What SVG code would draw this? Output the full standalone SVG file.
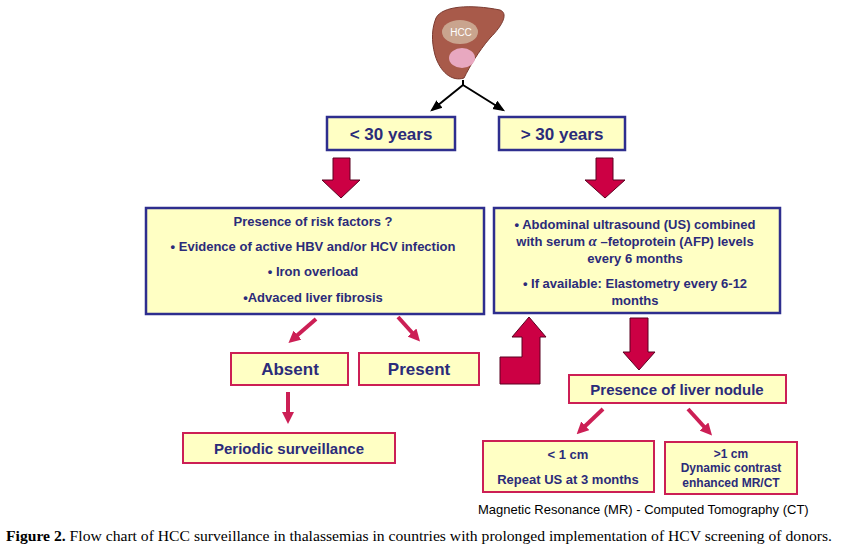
<svg xmlns="http://www.w3.org/2000/svg" width="842" height="549" viewBox="0 0 842 549">
<defs>
<style>
.b{fill:#FFFFC4;stroke:#2E2E8E;stroke-width:2.5}
.p{fill:#FFFFC4;stroke:#CC1F55;stroke-width:2}
.t{font-family:"Liberation Sans",Arial,sans-serif;font-weight:bold;fill:#2B2B7A;text-anchor:middle}
.big{fill:#CC0044;stroke:#5A0020;stroke-width:1}
.sm{stroke:#CC1F55;stroke-width:4;fill:none;marker-end:url(#ah)}
</style>
<marker id="ah" viewBox="0 0 10 10" refX="5" refY="5" markerWidth="3" markerHeight="3" orient="auto"><path d="M0,0L10,5L0,10z" fill="#CC1F55"/></marker>
<marker id="bk" viewBox="0 0 10 10" refX="8" refY="5" markerWidth="6" markerHeight="6" orient="auto"><path d="M0,1L10,5L0,9z" fill="#000"/></marker>
</defs>
<rect width="842" height="549" fill="#fff"/>
<g id="liver">
<path d="M436,18 C442,6 470,4 500,10 C508,13 504,24 490,38 C478,52 470,66 464,78 C452,82 440,72 435,55 C431,40 432,28 436,18z" fill="#A85A4A" stroke="#7A3A30"/>
<ellipse cx="460" cy="32" rx="18" ry="12" fill="#C9A48E"/>
<text x="461" y="36" font-family="Liberation Sans,Arial,sans-serif" font-size="10" fill="#fff" text-anchor="middle">HCC</text>
<ellipse cx="462" cy="58" rx="13" ry="10" fill="#E8A8C0"/>
</g>
<g id="connectors">
<path d="M463,80V85M463,85L503,110" stroke="#000" stroke-width="2" fill="none" marker-end="url(#bk)"/>
<path d="M463,85L432,110" stroke="#000" stroke-width="2" marker-end="url(#bk)"/>
<path class="big" d="M333,158H350V180H360L341,198L322,180H333z"/>
<path class="big" d="M596,158H613V180H625L605,198L585,180H596z"/>
<path class="sm" d="M316,319L293,339"/>
<path class="sm" d="M398,317L416,337"/>
<path class="sm" d="M288,392V418"/>
<path class="big" d="M500,384V357H522V337H512L529,317L546,337H540V384z"/>
<path class="big" d="M630,318H648V352H655L639,370L623,352H630z"/>
<path class="sm" d="M603,409L581,430"/>
<path class="sm" d="M688,409L708,431"/>
</g>
<g id="n1"><rect class="b" x="327" y="117" width="128" height="33"/><text class="t" x="391" y="140" font-size="17">&lt; 30 years</text></g>
<g id="n2"><rect class="b" x="499" y="117" width="126" height="33"/><text class="t" x="562" y="140" font-size="17">&gt; 30 years</text></g>
<g id="n3"><rect class="b" x="146" y="208" width="338" height="106"/>
<text class="t" font-size="13"><tspan x="313" y="226">Presence of risk factors ?</tspan><tspan x="313" y="251">• Evidence of active HBV and/or HCV infection</tspan><tspan x="313" y="276">• Iron overload</tspan><tspan x="313" y="302">•Advaced liver fibrosis</tspan></text></g>
<g id="n4"><rect class="b" x="494" y="208" width="286" height="105"/>
<text class="t" font-size="13"><tspan x="635" y="229">• Abdominal ultrasound (US) combined</tspan><tspan x="635" y="246">with serum <tspan font-family="Liberation Serif,serif" font-style="italic" font-size="15">α</tspan> –fetoprotein (AFP) levels</tspan><tspan x="635" y="263">every 6 months</tspan><tspan x="635" y="288">• If available: Elastometry every 6-12</tspan><tspan x="635" y="305">months</tspan></text></g>
<g id="n5"><rect class="p" x="231" y="353" width="117" height="32"/><text class="t" x="290" y="375" font-size="17">Absent</text></g>
<g id="n6"><rect class="p" x="359" y="353" width="120" height="32"/><text class="t" x="419" y="375" font-size="17">Present</text></g>
<g id="n7"><rect class="p" x="183" y="433" width="212" height="30"/><text class="t" x="289" y="454" font-size="15">Periodic surveillance</text></g>
<g id="n8"><rect class="p" x="569" y="375" width="217" height="28"/><text class="t" x="677" y="395" font-size="15">Presence of liver nodule</text></g>
<g id="n9"><rect class="p" x="483" y="441" width="171" height="51"/><text class="t" font-size="13"><tspan x="568" y="459">&lt; 1 cm</tspan><tspan x="568" y="484">Repeat US at 3 months</tspan></text></g>
<g id="n10"><rect class="p" x="665" y="442" width="132" height="52"/><text class="t" font-size="12"><tspan x="731" y="458">&gt;1 cm</tspan><tspan x="731" y="472">Dynamic contrast</tspan><tspan x="731" y="487">enhanced MR/CT</tspan></text></g>
<text x="478" y="514" font-family="Liberation Sans,Arial,sans-serif" font-size="13" fill="#000">Magnetic Resonance (MR) - Computed Tomography (CT)</text>
<text x="6" y="541" font-family="Liberation Serif,Times New Roman,serif" font-size="15.5" fill="#000" textLength="826" lengthAdjust="spacingAndGlyphs"><tspan font-weight="bold">Figure 2.</tspan> Flow chart of HCC surveillance in thalassemias in countries with prolonged implementation of HCV screening of donors.</text>
</svg>
